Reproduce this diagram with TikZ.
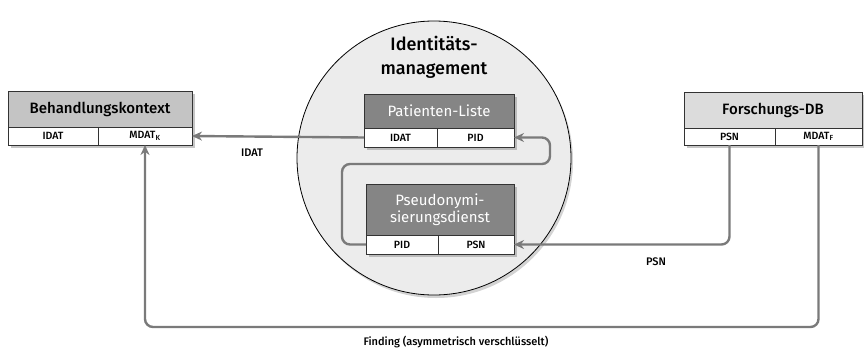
\documentclass[tikz,border=0pt]{standalone}
\usepackage{fontspec}
\setmainfont{Fira Sans}[UprightFont=* Medium]
\newfontfamily\regfont{Fira Sans}
\usetikzlibrary{arrows.meta,shadows}
\definecolor{arrowgray}{HTML}{7A7A7A}
\definecolor{hdrlight}{HTML}{C4C4C4}
\definecolor{hdrlighter}{HTML}{DCDCDC}
\definecolor{hdrdark}{HTML}{858585}
\definecolor{circfill}{HTML}{ECECEC}
\begin{document}
\begin{tikzpicture}[x=1pt,y=-1pt,
  cell/.style={draw=black!80,line width=0.8pt,fill=white,inner sep=0pt,outer sep=0pt,anchor=north west,font=\fontsize{10.5}{11}\selectfont},
  hdr/.style={draw=black!80,line width=0.8pt,inner sep=0pt,outer sep=0pt,anchor=north west,align=center,font=\fontsize{15}{16.5}\selectfont},
  darkhdr/.style={hdr,fill=hdrdark,text=white,font=\regfont\fontsize{15}{16.5}\selectfont},
  shadowbox/.style={fill=white,draw=none,drop shadow={shadow xshift=2.5pt,shadow yshift=-2.5pt,opacity=0.45}},
  flow/.style={draw=arrowgray,line width=2.4pt,rounded corners=8pt,-{Stealth[length=10pt,width=9pt]}},
  lbl/.style={font=\fontsize{11}{12}\selectfont}]
\useasboundingbox (0,0) rectangle (864,351);
% circle
\node[circle,draw=black,line width=0.8pt,fill=circfill,minimum size=274pt,inner sep=0pt,
  drop shadow={shadow xshift=2pt,shadow yshift=-3pt,opacity=0.35}] (idm) at (434,158) {};
\node[align=center,font=\fontsize{18}{24}\selectfont] (idmt) at (434,57) {Identitäts-\\management};
% Behandlungskontext
\fill[shadowbox] (8,91) rectangle (192,145);
\node[hdr,fill=hdrlight,minimum width=184pt,minimum height=36pt] (bk) at (8,91) {Behandlungskontext};
\node[cell,minimum width=90pt,minimum height=18pt] (bkid) at (8,127) {IDAT};
\node[cell,minimum width=94pt,minimum height=18pt] (bkmd) at (98,127) {MDAT\textsubscript{K}};
% Forschungs-DB
\fill[shadowbox] (684,92) rectangle (862,145);
\node[hdr,fill=hdrlighter,minimum width=178pt,minimum height=36pt] (fdb) at (684,92) {Forschungs-DB};
\node[cell,minimum width=91pt,minimum height=17pt] (fpsn) at (684,128) {PSN};
\node[cell,minimum width=87pt,minimum height=17pt] (fmd) at (775,128) {MDAT\textsubscript{F}};
% Patienten-Liste
\fill[shadowbox] (364,94) rectangle (514,147);
\node[darkhdr,minimum width=150pt,minimum height=34pt] (pl) at (364,94) {Patienten-Liste};
\node[cell,minimum width=73pt,minimum height=19pt] (plid) at (364,128) {IDAT};
\node[cell,minimum width=77pt,minimum height=19pt] (plpid) at (437,128) {PID};
% Pseudonymisierungsdienst
\fill[shadowbox] (366,184) rectangle (514,254);
\node[darkhdr,minimum width=148pt,minimum height=51pt] (ps) at (366,184) {Pseudonymi-\\sierungsdienst};
\node[cell,minimum width=72pt,minimum height=19pt] (pspid) at (366,235) {PID};
\node[cell,minimum width=76pt,minimum height=19pt] (pspsn) at (438,235) {PSN};
% arrows
\draw[flow] (plid.west) -- (bkmd.east);
\node[lbl] (lidat) at (252,153) {IDAT};
\draw[flow] (pspid.west) -- (342,244.5) -- (342,164) -- (550,164) -- (550,137.5) -- (plpid.east);
\coordinate (psnbend) at (729.5,244.5);
\draw[flow] (fpsn.south) -- (psnbend) -- (pspsn.east);
\node[lbl] (lpsn) at (656,262) {PSN};
\draw[flow] (fmd.south) -- (818.5,327) -- (145,327) -- (bkmd.south);
\node[lbl] (lfind) at (456,342) {Finding (asymmetrisch verschlüsselt)};
\end{tikzpicture}
\end{document}
